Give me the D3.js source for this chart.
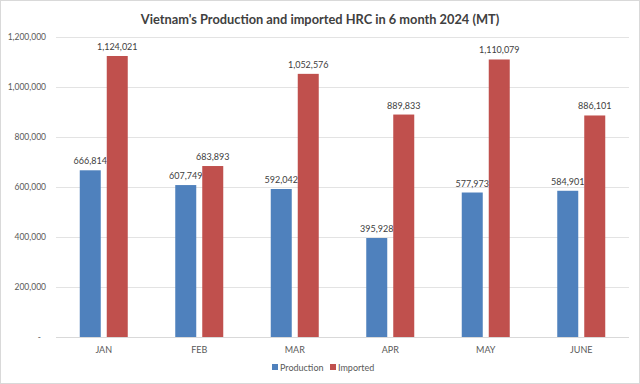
<!DOCTYPE html>
<html>
<head>
<meta charset="utf-8">
<script src="https://cdn.jsdelivr.net/npm/d3@7"></script>
<style>
  body { margin: 0; background: #fff; }
  svg { font-family: Lato, "Liberation Sans", sans-serif; }
</style>
</head>
<body>
<svg id="chart" width="640" height="384"></svg>
<script>
const months = ["JAN", "FEB", "MAR", "APR", "MAY", "JUNE"];
const production = [666814, 607749, 592042, 395928, 577973, 584901];
const imported = [1124021, 683893, 1052576, 889833, 1110079, 886101];
const yTicks = [0, 200000, 400000, 600000, 800000, 1000000, 1200000];
const seriesNames = ["Production", "Imported"];
const seriesColors = ["#4f81bd", "#c0504d"];

const svg = d3.select("#chart");
const W = 640, H = 384;
const margin = { left: 56, right: 11, top: 37, bottom: 47 };

// frame
svg.append("rect").attr("x", 0.5).attr("y", 0.5)
    .attr("width", W - 1).attr("height", H - 1)
    .attr("fill", "#fff").attr("stroke", "#d9d9d9");

svg.append("text")
    .attr("x", 320).attr("y", 24)
    .attr("text-anchor", "middle")
    .attr("font-size", 12.8).attr("font-weight", "bold")
    .attr("fill", "#404040")
    .text("Vietnam's Production and imported HRC in 6 month 2024 (MT)");

let x = d3.scaleBand().domain(months)
    .range([margin.left, W - margin.right]);
let y = d3.scaleLinear().domain([0, 1200000])
    .range([H - margin.bottom, margin.top]);
let fmt = d3.format(",");

// grid lines
svg.append("g").selectAll("line").data(yTicks).join("line")
    .attr("x1", margin.left).attr("x2", W - margin.right)
    .attr("y1", d => y(d) + 0.5).attr("y2", d => y(d) + 0.5)
    .attr("stroke", d => d === 0 ? "#d9d9d9" : "#e3e3e3");

// y tick labels
svg.append("g").selectAll("text").data(yTicks).join("text")
    .attr("x", d => d === 0 ? 41 : 46)
    .attr("y", d => y(d) + 3)
    .attr("text-anchor", "end")
    .attr("font-size", 8.5).attr("fill", "#595959")
    .text(d => d === 0 ? "-" : fmt(d));

// x labels
svg.append("g").selectAll("text").data(months).join("text")
    .attr("x", d => x(d) + x.bandwidth() / 2)
    .attr("y", H - margin.bottom + 16)
    .attr("text-anchor", "middle")
    .attr("font-size", 9).attr("fill", "#595959")
    .text(d => d);

// bars
let barW = 21, gap = 6;
let series = [production, imported];
series.forEach((vals, s) =>
{
  let offset = s === 0 ? -gap / 2 - barW : gap / 2;
  let g = svg.append("g");
  g.selectAll("rect").data(vals).join("rect")
      .attr("x", (d, i) => x(months[i]) + x.bandwidth() / 2 + offset)
      .attr("y", d => y(d))
      .attr("width", barW)
      .attr("height", d => y(0) - y(d))
      .attr("fill", seriesColors[s]);
  g.selectAll("text").data(vals).join("text")
      .attr("x", (d, i) => x(months[i]) + x.bandwidth() / 2 + offset + barW / 2)
      .attr("y", d => y(d) - 6)
      .attr("text-anchor", "middle")
      .attr("font-size", 9).attr("fill", "#404040")
      .text(d => fmt(d));
});

// legend
let legend = svg.append("g").attr("transform", "translate(272,369)");
let lx = [0, 58];
seriesNames.forEach((name, i) =>
{
  legend.append("rect").attr("x", lx[i]).attr("y", -5)
      .attr("width", 6).attr("height", 6).attr("fill", seriesColors[i]);
  legend.append("text").attr("x", lx[i] + 8).attr("y", 2)
      .attr("font-size", 9).attr("fill", "#595959").text(name);
});
</script>
</body>
</html>
